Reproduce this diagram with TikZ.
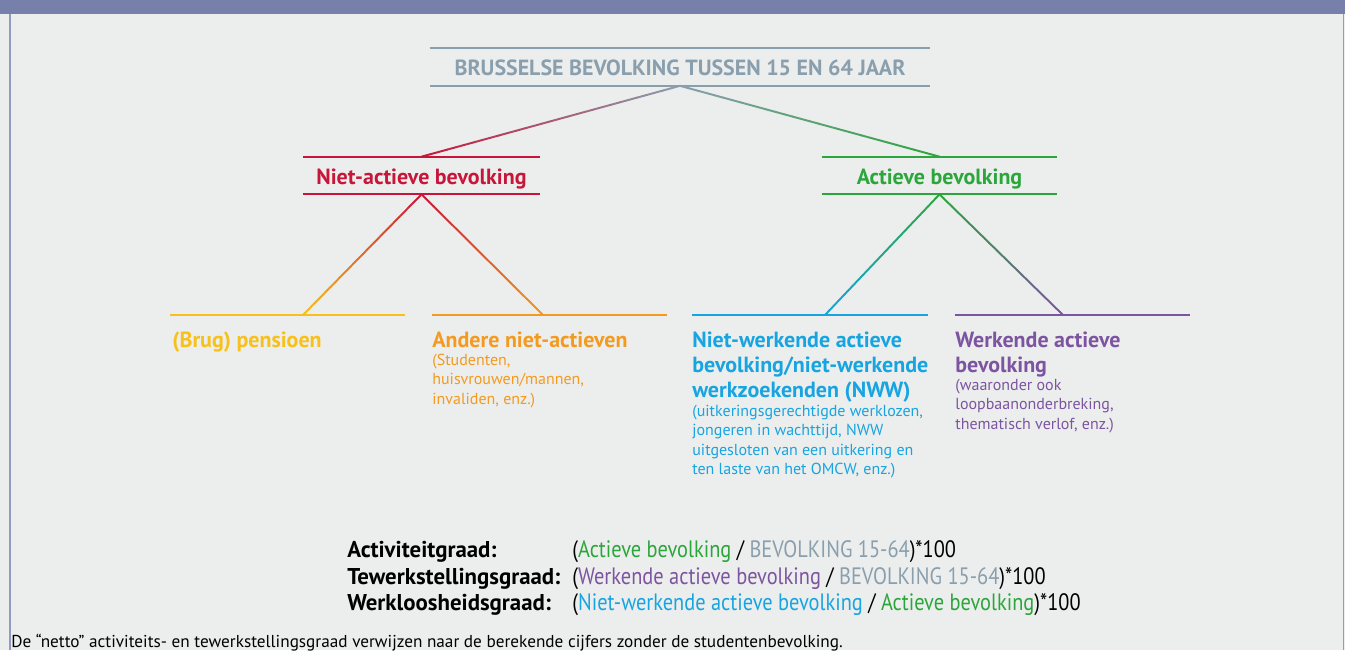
\documentclass[tikz,border=0pt]{standalone}
\usepackage{fontspec}
\setmainfont{PT Sans}
\newfontfamily\condfont[FakeStretch=0.86]{PT Sans}
\usetikzlibrary{calc}
\definecolor{bgcol}{HTML}{ECEEED}
\definecolor{barcol}{HTML}{7680AB}
\definecolor{framecol}{HTML}{939BC2}
\definecolor{popcol}{HTML}{8A9FAE}
\definecolor{nietcol}{HTML}{C8163A}
\definecolor{actcol}{HTML}{2BA63B}
\definecolor{brugcol}{HTML}{F7C01A}
\definecolor{anderecol}{HTML}{F39A1F}
\definecolor{nwwcol}{HTML}{18A4E0}
\definecolor{werkcol}{HTML}{7D54A1}
\tikzset{
 rule/.style={line width=1.1pt},
 headbox/.style={inner sep=0pt, minimum height=0.74cm, text height=10pt, text depth=0pt,
   font=\bfseries\fontsize{12.5}{14}\selectfont},
 branchtitle/.style={anchor=base west, inner sep=0pt, align=left, font=\bfseries\fontsize{12.5}{14.2}\selectfont},
 branchnote/.style={anchor=north west, inner sep=0pt, align=left, font=\fontsize{9.1}{10.95}\selectfont},
 formlabel/.style={anchor=base west, inner sep=0pt, font=\bfseries\fontsize{13}{15}\selectfont},
 formvalue/.style={anchor=base west, inner sep=0pt, font=\condfont\fontsize{13.5}{15}\selectfont},
}
% connector whose colour runs from #3 to #4
\newcommand{\gradline}[4]{%
  \foreach \i [evaluate=\i as \p using 100*(\i+0.5)/30,
               evaluate=\i as \a using \i/30,
               evaluate=\i as \b using (\i+1)/30] in {0,...,29}
    \draw[rule, line cap=round, color=#4!\p!#3] ($(#1)!\a!(#2)$) -- ($(#1)!\b!(#2)$);}

\begin{document}
\begin{tikzpicture}[x=0.02cm, y=-0.02cm]
  \useasboundingbox (0,0) rectangle (1345,650);
  \fill[bgcol] (0,0) rectangle (1345,650);
  \fill[barcol] (0,0) rectangle (1345,14);
  \draw[framecol, line width=0.6pt] (10,14) -- (10,650);
  \draw[framecol, line width=0.6pt] (1343.5,14) -- (1343.5,650);

  % top level
  \node[headbox, minimum width=10cm, text=popcol] (pop) at (680,67) {BRUSSELSE BEVOLKING TUSSEN 15 EN 64 JAAR};
  \draw[rule, popcol] (pop.north west) -- (pop.north east) (pop.south west) -- (pop.south east);

  % second level
  \node[headbox, minimum width=4.74cm, text=nietcol] (niet) at (421.5,175.5) {Niet-actieve bevolking};
  \draw[rule, nietcol] (niet.north west) -- (niet.north east) (niet.south west) -- (niet.south east);
  \node[headbox, minimum width=4.7cm, text=actcol] (act) at (939.5,175.5) {Actieve bevolking};
  \draw[rule, actcol] (act.north west) -- (act.north east) (act.south west) -- (act.south east);

  \gradline{pop.south}{niet.north}{popcol}{nietcol}
  \gradline{pop.south}{act.north}{popcol}{actcol}

  % third level
  \coordinate (brugjoin) at (303,315);
  \coordinate (anderejoin) at (543,315);
  \coordinate (nwwjoin) at (825,315);
  \coordinate (werkjoin) at (1063,315);
  \draw[rule, brugcol] (170,315) -- (405,315);
  \draw[rule, anderecol] (432,315) -- (667,315);
  \draw[rule, nwwcol] (692,315) -- (928,315);
  \draw[rule, werkcol] (955,315) -- (1190,315);

  \gradline{niet.south}{brugjoin}{nietcol}{brugcol}
  \gradline{niet.south}{anderejoin}{nietcol}{anderecol}
  \gradline{act.south}{nwwjoin}{actcol}{nwwcol}
  \gradline{act.south}{werkjoin}{actcol}{werkcol}

  \node[branchtitle, text=brugcol] (brug) at (172,347) {(Brug) pensioen};
  \node[branchtitle, text=anderecol] (andere) at (432,347) {Andere niet-actieven};
  \node[branchnote, text=anderecol] (anderenote) at (432,354)
    {(Studenten,\\huisvrouwen/mannen,\\invaliden, enz.)};
  \node[branchtitle, anchor=north west, text=nwwcol] (nww) at (692,332)
    {Niet-werkende actieve\\bevolking/niet-werkende\\werkzoekenden (NWW)};
  \node[branchnote, text=nwwcol] (nwwnote) at (692,405)
    {(uitkeringsgerechtigde werklozen,\\jongeren in wachttijd, NWW\\uitgesloten van een uitkering en\\ten laste van het OMCW, enz.)};
  \node[branchtitle, anchor=north west, text=werkcol] (werk) at (955,332) {Werkende actieve\\bevolking};
  \node[branchnote, text=werkcol] (werknote) at (955,379)
    {(waaronder ook\\loopbaanonderbreking,\\thematisch verlof, enz.)};

  % formulas
  \node[formlabel] (actlab) at (347,557) {Activiteitgraad:};
  \node[formlabel] (tewlab) at (347,584) {Tewerkstellingsgraad:};
  \node[formlabel] (werklab) at (347,610) {Werkloosheidsgraad:};
  \node[formvalue] (actval) at (572,557)
    {(\textcolor{actcol}{Actieve bevolking} / \textcolor{popcol}{BEVOLKING 15-64})*100};
  \node[formvalue] (tewval) at (572,584)
    {(\textcolor{werkcol}{Werkende actieve bevolking} / \textcolor{popcol}{BEVOLKING 15-64})*100};
  \node[formvalue] (werkval) at (572,610)
    {(\textcolor{nwwcol}{Niet-werkende actieve bevolking} / \textcolor{actcol}{Actieve bevolking})*100};

  \node[anchor=base west, inner sep=0pt, font=\fontsize{9.8}{11}\selectfont] (footnote) at (11,647)
    {De “netto” activiteits- en tewerkstellingsgraad verwijzen naar de berekende cijfers zonder de studentenbevolking.};
\end{tikzpicture}
\end{document}
